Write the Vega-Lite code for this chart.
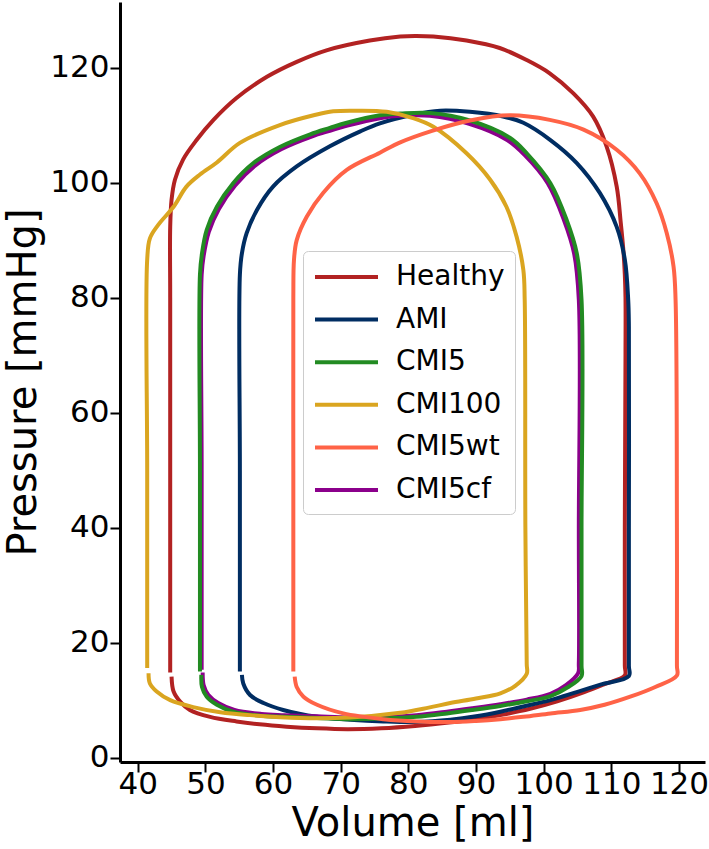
{
  "$schema": "https://vega.github.io/schema/vega-lite/v6.json",
  "width": 585,
  "height": 760,
  "autosize": {"type": "none"},
  "padding": {"left": 120, "top": 2, "right": 4, "bottom": 87},
  "background": "white",
  "config": {
    "view": {"stroke": null},
    "font": "DejaVu Sans",
    "axis": {
      "grid": false,
      "domainColor": "black",
      "domainWidth": 3,
      "tickColor": "black",
      "tickWidth": 2,
      "tickSize": 10,
      "labelFont": "DejaVu Sans",
      "labelFontSize": 31,
      "labelColor": "black",
      "titleFont": "DejaVu Sans",
      "titleFontSize": 40,
      "titleFontWeight": "normal",
      "titleColor": "black"
    },
    "legend": {
      "labelFont": "DejaVu Sans"
    }
  },
  "data": {
    "values": [
      {"s":"Healthy","v":45.0,"p":14.1},{"s":"Healthy","v":45.3,"p":11.5},{"s":"Healthy","v":46.3,"p":9.7},{"s":"Healthy","v":47.7,"p":8.3},{"s":"Healthy","v":50.7,"p":7.1},{"s":"Healthy","v":54.6,"p":6.3},{"s":"Healthy","v":58.0,"p":5.8},{"s":"Healthy","v":62.0,"p":5.4},{"s":"Healthy","v":66.5,"p":5.1},{"s":"Healthy","v":71.0,"p":4.95},{"s":"Healthy","v":76.0,"p":5.1},{"s":"Healthy","v":81.0,"p":5.5},{"s":"Healthy","v":86.0,"p":6.1},{"s":"Healthy","v":90.0,"p":6.7},{"s":"Healthy","v":94.0,"p":7.5},{"s":"Healthy","v":98.0,"p":8.5},{"s":"Healthy","v":102.0,"p":9.8},{"s":"Healthy","v":106.0,"p":11.4},{"s":"Healthy","v":109.0,"p":12.8},{"s":"Healthy","v":112.0,"p":14.3},
      {"s":"Healthy","v":112.0,"p":16},{"s":"Healthy","v":112.0,"p":40},{"s":"Healthy","v":112.1,"p":70},{"s":"Healthy","v":112.1,"p":80},{"s":"Healthy","v":112.0,"p":84},{"s":"Healthy","v":111.8,"p":88},{"s":"Healthy","v":111.4,"p":93},{"s":"Healthy","v":110.8,"p":99.3},{"s":"Healthy","v":109.3,"p":106.3},{"s":"Healthy","v":107.3,"p":111.5},{"s":"Healthy","v":104.4,"p":115.5},{"s":"Healthy","v":100.9,"p":119.0},{"s":"Healthy","v":97.5,"p":121.3},{"s":"Healthy","v":93.5,"p":123.4},{"s":"Healthy","v":88.6,"p":124.7},{"s":"Healthy","v":83.7,"p":125.4},{"s":"Healthy","v":81.0,"p":125.5},{"s":"Healthy","v":78.8,"p":125.4},{"s":"Healthy","v":74.3,"p":124.7},{"s":"Healthy","v":67.9,"p":123.0},{"s":"Healthy","v":63.5,"p":121.0},{"s":"Healthy","v":59.1,"p":118.4},{"s":"Healthy","v":54.6,"p":114.7},{"s":"Healthy","v":51.2,"p":110.9},{"s":"Healthy","v":48.7,"p":107.4},{"s":"Healthy","v":46.7,"p":104.0},{"s":"Healthy","v":45.5,"p":100.5},{"s":"Healthy","v":45.0,"p":97.0},{"s":"Healthy","v":44.8,"p":92.3},{"s":"Healthy","v":44.8,"p":80},{"s":"Healthy","v":44.8,"p":50},{"s":"Healthy","v":44.8,"p":14.8},

      {"s":"AMI","v":55.4,"p":14.4},{"s":"AMI","v":55.6,"p":12.9},{"s":"AMI","v":56.6,"p":10.9},{"s":"AMI","v":58.6,"p":9.5},{"s":"AMI","v":61.5,"p":8.3},{"s":"AMI","v":66.5,"p":7.1},{"s":"AMI","v":71.4,"p":6.6},{"s":"AMI","v":76.3,"p":6.3},{"s":"AMI","v":81.2,"p":6.2},{"s":"AMI","v":86.2,"p":6.6},{"s":"AMI","v":90.0,"p":7.2},{"s":"AMI","v":93.6,"p":8.0},{"s":"AMI","v":97.0,"p":8.9},{"s":"AMI","v":101.0,"p":10.0},{"s":"AMI","v":105.0,"p":11.45},{"s":"AMI","v":108.4,"p":12.7},{"s":"AMI","v":112.6,"p":14.2},
      {"s":"AMI","v":112.6,"p":16},{"s":"AMI","v":112.6,"p":40},{"s":"AMI","v":112.6,"p":75},{"s":"AMI","v":112.5,"p":79.6},{"s":"AMI","v":112.0,"p":86.6},{"s":"AMI","v":110.8,"p":92.3},{"s":"AMI","v":108.3,"p":98.2},{"s":"AMI","v":104.9,"p":103.4},{"s":"AMI","v":101.0,"p":107.4},{"s":"AMI","v":97.0,"p":110.4},{"s":"AMI","v":94.0,"p":111.5},{"s":"AMI","v":89.1,"p":112.3},{"s":"AMI","v":84.7,"p":112.5},{"s":"AMI","v":80.7,"p":111.8},{"s":"AMI","v":75.8,"p":110.3},{"s":"AMI","v":72.9,"p":108.9},{"s":"AMI","v":68.4,"p":106.3},{"s":"AMI","v":63.5,"p":102.8},{"s":"AMI","v":60.0,"p":99.3},{"s":"AMI","v":57.6,"p":95.2},{"s":"AMI","v":56.1,"p":91.2},{"s":"AMI","v":55.4,"p":87.7},{"s":"AMI","v":55.1,"p":84},{"s":"AMI","v":55.1,"p":50},{"s":"AMI","v":55.1,"p":15.0},

      {"s":"CMI5cf","v":49.6,"p":14.8},{"s":"CMI5cf","v":49.75,"p":12.6},{"s":"CMI5cf","v":50.45,"p":10.9},{"s":"CMI5cf","v":51.9,"p":9.5},{"s":"CMI5cf","v":54.3,"p":8.3},{"s":"CMI5cf","v":58.3,"p":7.6},{"s":"CMI5cf","v":61.7,"p":7.4},{"s":"CMI5cf","v":66.5,"p":7.2},{"s":"CMI5cf","v":71.4,"p":7.0},{"s":"CMI5cf","v":76.3,"p":7.1},{"s":"CMI5cf","v":81.2,"p":7.4},{"s":"CMI5cf","v":85.7,"p":8.0},{"s":"CMI5cf","v":89.5,"p":8.6},{"s":"CMI5cf","v":93.6,"p":9.3},{"s":"CMI5cf","v":97.5,"p":10.1},{"s":"CMI5cf","v":101.0,"p":11.1},{"s":"CMI5cf","v":103.3,"p":12.6},{"s":"CMI5cf","v":105.1,"p":14.7},
      {"s":"CMI5cf","v":105.2,"p":16.4},{"s":"CMI5cf","v":105.2,"p":40},{"s":"CMI5cf","v":105.2,"p":79.6},{"s":"CMI5cf","v":104.5,"p":87.7},{"s":"CMI5cf","v":103.0,"p":93.5},{"s":"CMI5cf","v":100.6,"p":99.9},{"s":"CMI5cf","v":97.1,"p":104.9},{"s":"CMI5cf","v":94.6,"p":107.4},{"s":"CMI5cf","v":89.0,"p":110.2},{"s":"CMI5cf","v":83.2,"p":111.6},{"s":"CMI5cf","v":78.8,"p":111.6},{"s":"CMI5cf","v":75.8,"p":111.2},{"s":"CMI5cf","v":71.0,"p":109.9},{"s":"CMI5cf","v":68.4,"p":109.0},{"s":"CMI5cf","v":65.7,"p":108.0},{"s":"CMI5cf","v":61.2,"p":105.8},{"s":"CMI5cf","v":57.4,"p":103.0},{"s":"CMI5cf","v":54.4,"p":99.5},{"s":"CMI5cf","v":52.0,"p":95.4},{"s":"CMI5cf","v":50.5,"p":91.4},{"s":"CMI5cf","v":49.75,"p":87.3},{"s":"CMI5cf","v":49.45,"p":84},{"s":"CMI5cf","v":49.45,"p":50},{"s":"CMI5cf","v":49.45,"p":15.3},

      {"s":"CMI5","v":49.4,"p":14.4},{"s":"CMI5","v":49.5,"p":12.3},{"s":"CMI5","v":50.2,"p":10.6},{"s":"CMI5","v":51.7,"p":9.2},{"s":"CMI5","v":54.1,"p":8.0},{"s":"CMI5","v":58.1,"p":7.3},{"s":"CMI5","v":61.5,"p":7.1},{"s":"CMI5","v":66.5,"p":6.9},{"s":"CMI5","v":71.4,"p":6.7},{"s":"CMI5","v":76.3,"p":6.8},{"s":"CMI5","v":81.2,"p":7.1},{"s":"CMI5","v":85.7,"p":7.7},{"s":"CMI5","v":89.5,"p":8.3},{"s":"CMI5","v":93.6,"p":9.0},{"s":"CMI5","v":97.5,"p":9.8},{"s":"CMI5","v":101.0,"p":10.7},{"s":"CMI5","v":103.5,"p":12.2},{"s":"CMI5","v":105.6,"p":14.2},
      {"s":"CMI5","v":105.6,"p":16},{"s":"CMI5","v":105.6,"p":40},{"s":"CMI5","v":105.6,"p":79.6},{"s":"CMI5","v":104.9,"p":87.7},{"s":"CMI5","v":103.4,"p":93.5},{"s":"CMI5","v":101.0,"p":99.9},{"s":"CMI5","v":97.5,"p":105.1},{"s":"CMI5","v":95.0,"p":107.8},{"s":"CMI5","v":89.1,"p":110.8},{"s":"CMI5","v":83.2,"p":112.1},{"s":"CMI5","v":78.8,"p":112.0},{"s":"CMI5","v":75.8,"p":111.7},{"s":"CMI5","v":70.9,"p":110.4},{"s":"CMI5","v":68.4,"p":109.5},{"s":"CMI5","v":65.5,"p":108.4},{"s":"CMI5","v":61.0,"p":106.2},{"s":"CMI5","v":57.1,"p":103.4},{"s":"CMI5","v":54.1,"p":99.9},{"s":"CMI5","v":51.7,"p":95.8},{"s":"CMI5","v":50.2,"p":91.8},{"s":"CMI5","v":49.5,"p":87.7},{"s":"CMI5","v":49.2,"p":84},{"s":"CMI5","v":49.2,"p":50},{"s":"CMI5","v":49.2,"p":15.0},

      {"s":"CMI100","v":41.6,"p":14.7},{"s":"CMI100","v":41.8,"p":12.9},{"s":"CMI100","v":42.8,"p":11.5},{"s":"CMI100","v":44.8,"p":10.0},{"s":"CMI100","v":48.2,"p":8.8},{"s":"CMI100","v":52.2,"p":7.9},{"s":"CMI100","v":56.6,"p":7.4},{"s":"CMI100","v":64.0,"p":6.9},{"s":"CMI100","v":71.4,"p":7.0},{"s":"CMI100","v":78.8,"p":7.8},{"s":"CMI100","v":83.0,"p":8.7},{"s":"CMI100","v":86.2,"p":9.5},{"s":"CMI100","v":90.0,"p":10.3},{"s":"CMI100","v":93.6,"p":11.2},{"s":"CMI100","v":95.8,"p":12.5},{"s":"CMI100","v":97.5,"p":14.6},
      {"s":"CMI100","v":97.5,"p":16.3},{"s":"CMI100","v":97.3,"p":40},{"s":"CMI100","v":97.2,"p":79.6},{"s":"CMI100","v":97.0,"p":84.8},{"s":"CMI100","v":96.0,"p":90.6},{"s":"CMI100","v":94.5,"p":95.8},{"s":"CMI100","v":92.1,"p":100.5},{"s":"CMI100","v":88.6,"p":105.1},{"s":"CMI100","v":83.7,"p":109.7},{"s":"CMI100","v":80.7,"p":111.2},{"s":"CMI100","v":76.8,"p":112.3},{"s":"CMI100","v":72.5,"p":112.5},{"s":"CMI100","v":68.9,"p":112.4},{"s":"CMI100","v":66.0,"p":111.7},{"s":"CMI100","v":61.0,"p":110.0},{"s":"CMI100","v":55.1,"p":106.9},{"s":"CMI100","v":51.7,"p":103.5},{"s":"CMI100","v":49.2,"p":101.4},{"s":"CMI100","v":47.2,"p":99.3},{"s":"CMI100","v":45.3,"p":95.8},{"s":"CMI100","v":43.0,"p":92.6},{"s":"CMI100","v":41.8,"p":90.3},{"s":"CMI100","v":41.4,"p":86.6},{"s":"CMI100","v":41.4,"p":50},{"s":"CMI100","v":41.4,"p":15.6},

      {"s":"CMI5wt","v":63.2,"p":14.1},{"s":"CMI5wt","v":63.5,"p":12.3},{"s":"CMI5wt","v":64.5,"p":10.6},{"s":"CMI5wt","v":66.5,"p":9.2},{"s":"CMI5wt","v":70.4,"p":7.7},{"s":"CMI5wt","v":76.3,"p":6.7},{"s":"CMI5wt","v":81.2,"p":6.3},{"s":"CMI5wt","v":86.0,"p":6.2},{"s":"CMI5wt","v":90.0,"p":6.4},{"s":"CMI5wt","v":93.6,"p":6.7},{"s":"CMI5wt","v":97.0,"p":7.1},{"s":"CMI5wt","v":101.0,"p":7.7},{"s":"CMI5wt","v":105.4,"p":8.3},{"s":"CMI5wt","v":109.0,"p":9.2},{"s":"CMI5wt","v":112.8,"p":10.6},{"s":"CMI5wt","v":116.5,"p":12.3},{"s":"CMI5wt","v":119.7,"p":14.3},
      {"s":"CMI5wt","v":119.7,"p":16},{"s":"CMI5wt","v":119.7,"p":40},{"s":"CMI5wt","v":119.5,"p":79.6},{"s":"CMI5wt","v":119.2,"p":85.4},{"s":"CMI5wt","v":118.2,"p":91.2},{"s":"CMI5wt","v":116.7,"p":96.4},{"s":"CMI5wt","v":114.2,"p":101.6},{"s":"CMI5wt","v":110.8,"p":105.7},{"s":"CMI5wt","v":105.9,"p":109.2},{"s":"CMI5wt","v":100.9,"p":110.9},{"s":"CMI5wt","v":95.0,"p":111.7},{"s":"CMI5wt","v":89.1,"p":110.8},{"s":"CMI5wt","v":83.5,"p":109.0},{"s":"CMI5wt","v":78.8,"p":107.0},{"s":"CMI5wt","v":75.8,"p":105.2},{"s":"CMI5wt","v":70.9,"p":102.2},{"s":"CMI5wt","v":67.4,"p":98.2},{"s":"CMI5wt","v":65.0,"p":94.1},{"s":"CMI5wt","v":63.5,"p":90.0},{"s":"CMI5wt","v":63.1,"p":86.6},{"s":"CMI5wt","v":63.0,"p":80},{"s":"CMI5wt","v":63.0,"p":50},{"s":"CMI5wt","v":63.0,"p":15.0}
    ]
  },
  "mark": {"type": "line", "strokeWidth": 4, "strokeJoin": "round", "strokeCap": "butt", "interpolate": "catmull-rom"},
  "encoding": {
    "x": {
      "field": "v", "type": "quantitative",
      "scale": {"domain": [37.38, 123.85], "nice": false, "zero": false},
      "axis": {"values": [40, 50, 60, 70, 80, 90, 100, 110, 120], "title": "Volume [ml]", "labelPadding": -3, "titlePadding": 4}
    },
    "y": {
      "field": "p", "type": "quantitative",
      "scale": {"domain": [-0.75, 131.4], "nice": false, "zero": false},
      "axis": {"values": [0, 20, 40, 60, 80, 100, 120], "title": "Pressure [mmHg]", "labelPadding": 1, "titlePadding": 6}
    },
    "color": {
      "field": "s", "type": "nominal",
      "scale": {
        "domain": ["Healthy", "AMI", "CMI5", "CMI100", "CMI5wt", "CMI5cf"],
        "range": ["#b22222", "#002d62", "#228b22", "#daa520", "#ff6347", "#8b008b"]
      },
      "legend": {
        "title": null,
        "orient": "none",
        "legendX": 183,
        "legendY": 249,
        "symbolType": "M-1,0H3.5",
        "symbolSize": 784,
        "symbolStrokeWidth": 4,
        "labelFontSize": 28,
        "labelColor": "black",
        "labelOffset": 51,
        "rowPadding": 12.6,
        "padding": 10,
        "fillColor": "rgba(255,255,255,0.8)",
        "strokeColor": "#cccccc",
        "cornerRadius": 5
      }
    },
    "order": {"value": null}
  }
}
